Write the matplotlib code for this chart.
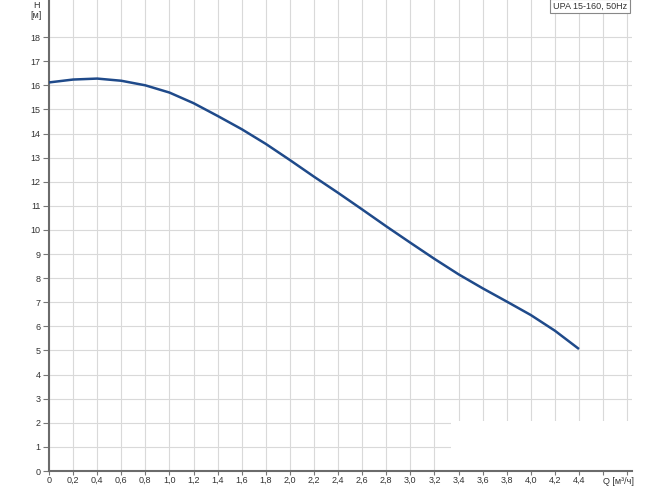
import matplotlib
matplotlib.use("Agg")
import matplotlib.pyplot as plt
from matplotlib.patches import Rectangle

# Data
q_values = [0.0, 0.2, 0.4, 0.6, 0.8, 1.0, 1.2, 1.4, 1.6, 1.8, 2.0, 2.2,
            2.4, 2.6, 2.8, 3.0, 3.2, 3.4, 3.6, 3.8, 4.0, 4.2, 4.4]
h_values = [16.12, 16.24, 16.28, 16.19, 16.0, 15.7, 15.26, 14.73, 14.18,
            13.57, 12.9, 12.21, 11.54, 10.85, 10.15, 9.47, 8.8, 8.16, 7.58,
            7.03, 6.47, 5.82, 5.06]

x_ticks = [0.0, 0.2, 0.4, 0.6, 0.8, 1.0, 1.2, 1.4, 1.6, 1.8, 2.0, 2.2, 2.4,
           2.6, 2.8, 3.0, 3.2, 3.4, 3.6, 3.8, 4.0, 4.2, 4.4, 4.6, 4.8]
x_labels = ["0", "0,2", "0,4", "0,6", "0,8", "1,0", "1,2", "1,4", "1,6",
            "1,8", "2,0", "2,2", "2,4", "2,6", "2,8", "3,0", "3,2", "3,4",
            "3,6", "3,8", "4,0", "4,2", "4,4", "", ""]
x_axis_label = "Q [м³/ч]"
y_ticks = list(range(0, 19))
y_labels = [str(v) for v in y_ticks]
title_text = "UPA 15-160, 50Hz"

plt.rcParams['font.family'] = ['Liberation Sans', 'DejaVu Sans']
fig = plt.figure(figsize=(6.5, 4.86), dpi=100)
ax = fig.add_axes([49 / 650, 15 / 486, (632 - 49) / 650, 471 / 486])

ax.set_xlim(0, 4.84)
ax.set_ylim(0, 19.54)

ax.set_xticks(x_ticks)
ax.set_xticklabels(x_labels)
ax.set_yticks(y_ticks)
ax.set_yticklabels(y_labels)

ax.grid(True, color="#d9d9d9", linewidth=0.8, zorder=0)
ax.set_axisbelow(True)

for s in ["top", "right"]:
    ax.spines[s].set_visible(False)
for s in ["left", "bottom"]:
    ax.spines[s].set_color("#6b6b6b")
    ax.spines[s].set_linewidth(1.5)

ax.tick_params(axis="both", labelsize=6.5, colors="#777777",
               labelcolor="#333333", width=0.8)
ax.tick_params(axis="x", length=3, pad=0.5)
ax.tick_params(axis="y", length=4, pad=2)

ax.plot(q_values, h_values, color="#1f4a8a", linewidth=1.8, zorder=5,
        solid_capstyle="butt")

# white patch seen in the reference
ax.add_patch(Rectangle((3.34, 0.06), 1.6, 2.02, facecolor="white",
                       edgecolor="none", zorder=2, clip_on=False))

# X axis label placed at the 4.6 tick position
ax.text(4.6, -0.25, x_axis_label, ha="left", va="top", fontsize=6.5,
        color="#333333", transform=ax.transData, clip_on=False)

# Axis label H [м]
fig.text(36 / 650, 1 - 6 / 486, "H", ha="center", va="center",
         fontsize=6.5, color="#333333")
fig.text(36 / 650, 1 - 16 / 486, "[м]", ha="center", va="center",
         fontsize=6.5, color="#333333")

# Title box at top right
fig.text(627 / 650, 1 - 6 / 486, title_text, ha="right", va="center",
         fontsize=6.5, color="#333333",
         bbox=dict(boxstyle="square,pad=0.3", facecolor="white",
                   edgecolor="#888888", linewidth=0.8))

fig.savefig("out.png", dpi=100)
